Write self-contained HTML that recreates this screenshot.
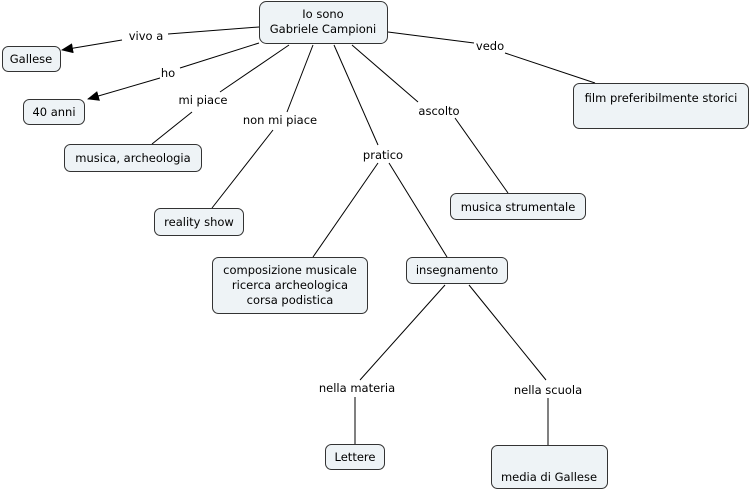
<!DOCTYPE html>
<html><head><meta charset="utf-8"><style>
html,body{margin:0;padding:0;background:#fff;}
svg{display:block;}
text{font-family:"DejaVu Sans","Liberation Sans",sans-serif;font-size:11.5px;fill:#000;text-anchor:middle;}
rect{fill:#eef3f6;stroke:#333;stroke-width:1;}
line{stroke:#000;stroke-width:1;}
</style></head><body>
<svg width="750" height="490" viewBox="0 0 750 490" xmlns="http://www.w3.org/2000/svg">
<defs><marker id="a" markerWidth="12" markerHeight="10" refX="11" refY="5" orient="auto" markerUnits="userSpaceOnUse"><path d="M0,0 L12,5 L0,10 z" fill="#000"/></marker></defs>
<g>
<line x1="259" y1="27" x2="168" y2="34"/>
<line x1="122" y1="40" x2="62" y2="50" marker-end="url(#a)"/>
<line x1="259" y1="43" x2="180" y2="68"/>
<line x1="160" y1="78" x2="88" y2="99" marker-end="url(#a)"/>
<line x1="289" y1="45" x2="220" y2="92"/>
<line x1="192" y1="112" x2="152" y2="144"/>
<line x1="313" y1="45" x2="287" y2="112"/>
<line x1="273" y1="130" x2="212" y2="208"/>
<line x1="334" y1="45" x2="378" y2="145"/>
<line x1="378" y1="163" x2="313" y2="257"/>
<line x1="389" y1="163" x2="447" y2="257"/>
<line x1="352" y1="45" x2="418" y2="102"/>
<line x1="455" y1="118" x2="508" y2="193"/>
<line x1="388" y1="32" x2="474" y2="43"/>
<line x1="505" y1="53" x2="595" y2="83"/>
<line x1="445" y1="285" x2="360" y2="380"/>
<line x1="355" y1="397" x2="355" y2="444"/>
<line x1="469" y1="285" x2="546" y2="380"/>
<line x1="548" y1="398" x2="548" y2="445"/>
</g>
<g fill="#fff">
<text x="146" y="40">vivo a</text>
<text x="168" y="77">ho</text>
<text x="203" y="104">mi piace</text>
<text x="280" y="124">non mi piace</text>
<text x="383" y="159">pratico</text>
<text x="439" y="115">ascolto</text>
<text x="490" y="50">vedo</text>
<text x="357" y="392">nella materia</text>
<text x="548" y="394">nella scuola</text>
</g>
<rect x="259.5" y="1.5" width="128" height="42" rx="7"/>
<text x="323" y="18">Io sono</text>
<text x="323" y="33">Gabriele Campioni</text>
<rect x="2.5" y="46.5" width="58" height="25" rx="6"/>
<text x="31" y="63">Gallese</text>
<rect x="23.5" y="99.5" width="61" height="25" rx="6"/>
<text x="54" y="116">40 anni</text>
<rect x="64.5" y="144.5" width="137" height="27" rx="6"/>
<text x="133" y="162">musica, archeologia</text>
<rect x="154.5" y="208.5" width="89" height="27" rx="6"/>
<text x="199" y="226">reality show</text>
<rect x="212.5" y="257.5" width="155" height="56" rx="6"/>
<text x="290" y="274">composizione musicale</text>
<text x="290" y="289">ricerca archeologica</text>
<text x="290" y="304">corsa podistica</text>
<rect x="406.5" y="257.5" width="101" height="26" rx="6"/>
<text x="457" y="274">insegnamento</text>
<rect x="450.5" y="193.5" width="135" height="26" rx="6"/>
<text x="518" y="211">musica strumentale</text>
<rect x="573.5" y="83.5" width="175" height="45" rx="6"/>
<text x="661" y="102">film preferibilmente storici</text>
<rect x="325.5" y="444.5" width="59" height="25" rx="6"/>
<text x="355" y="461">Lettere</text>
<rect x="491.5" y="445.5" width="116" height="43" rx="6"/>
<text x="549" y="481">media di Gallese</text>
</svg>
</body></html>
